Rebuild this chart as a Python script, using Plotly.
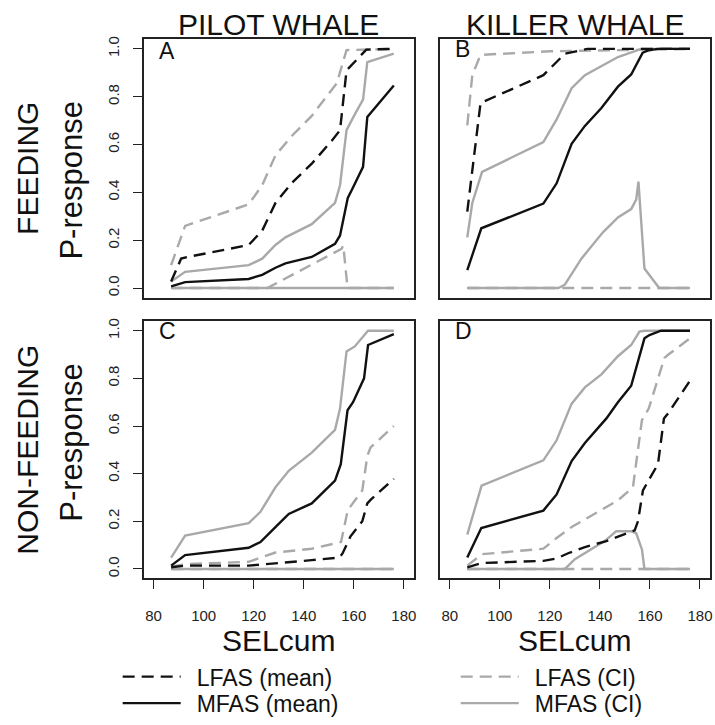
import plotly.graph_objects as go

# ---------------- data ----------------
x_ticks = [80, 100, 120, 140, 160, 180]
y_ticks = [0.0, 0.2, 0.4, 0.6, 0.8, 1.0]
y_tick_labels = ["0.0", "0.2", "0.4", "0.6", "0.8", "1.0"]

# Panel A: pilot whale, feeding
A_lfas_mean_x = [87, 91, 93.6, 118, 123.4, 128.7, 135.3, 143.2, 151.2, 154.5, 157.1, 160.4, 165, 176]
A_lfas_mean_y = [0.027, 0.123, 0.13, 0.18, 0.24, 0.356, 0.44, 0.52, 0.616, 0.66, 0.91, 0.945, 0.997, 1.0]
A_lfas_ci_hi_x = [87, 92.6, 118, 123.4, 128.7, 135.3, 143.2, 153.2, 157.1, 176]
A_lfas_ci_hi_y = [0.096, 0.26, 0.35, 0.43, 0.555, 0.637, 0.72, 0.856, 0.995, 1.0]
A_lfas_ci_lo_x = [87, 125.4, 155.1, 155.8, 157.5, 176]
A_lfas_ci_lo_y = [0, 0, 0.164, 0.178, 0, 0]
A_mfas_mean_x = [87, 92.6, 118, 123.4, 128.7, 132.7, 143.2, 152.5, 154.5, 157.6, 159.2, 163.7, 165.4, 176]
A_mfas_mean_y = [0.007, 0.025, 0.038, 0.055, 0.085, 0.103, 0.13, 0.185, 0.22, 0.377, 0.41, 0.507, 0.715, 0.847]
A_mfas_ci_hi_x = [87, 92.6, 118, 123.4, 128.7, 132.7, 143.2, 152.5, 154.5, 157.1, 160.4, 163.7, 165.4, 176]
A_mfas_ci_hi_y = [0.027, 0.068, 0.096, 0.123, 0.18, 0.212, 0.267, 0.356, 0.43, 0.66, 0.726, 0.788, 0.945, 0.98]
A_mfas_ci_lo_x = [87, 176]
A_mfas_ci_lo_y = [0, 0]

# Panel B: killer whale, feeding
B_lfas_mean_x = [87, 92.3, 117.4, 126, 135, 176]
B_lfas_mean_y = [0.32, 0.774, 0.89, 0.98, 1.0, 1.0]
B_lfas_ci_hi_x = [87, 89, 92.3, 120, 176]
B_lfas_ci_hi_y = [0.68, 0.89, 0.975, 0.99, 1.0]
B_lfas_ci_lo_x = [87, 176]
B_lfas_ci_lo_y = [0, 0]
B_mfas_mean_x = [87, 92.6, 117.4, 122.7, 128.7, 134, 140.6, 147.2, 152.5, 157.1, 159.1, 163, 176]
B_mfas_mean_y = [0.075, 0.25, 0.353, 0.438, 0.603, 0.678, 0.753, 0.842, 0.893, 0.984, 0.993, 1.0, 1.0]
B_mfas_ci_hi_x = [87, 89, 92.9, 117.4, 122.7, 128.7, 134, 147.2, 156.5, 176]
B_mfas_ci_hi_y = [0.212, 0.356, 0.486, 0.61, 0.705, 0.836, 0.89, 0.966, 1.0, 1.0]
B_mfas_ci_lo_x = [87, 123.4, 126, 132.6, 141.2, 147.2, 152.5, 154.5, 155.4, 157.8, 163.7, 176]
B_mfas_ci_lo_y = [0, 0, 0.014, 0.123, 0.233, 0.295, 0.33, 0.37, 0.445, 0.082, 0, 0]

# Panel C: pilot whale, non-feeding
C_lfas_mean_x = [87, 92.6, 118, 128.7, 143.2, 154.2, 155.5, 158.7, 163.4, 165.4, 166.7, 176]
C_lfas_mean_y = [0.007, 0.014, 0.014, 0.025, 0.037, 0.048, 0.065, 0.137, 0.2, 0.275, 0.29, 0.378]
C_lfas_ci_hi_x = [87, 92.6, 118, 128.7, 143.2, 154.9, 157.6, 163.4, 165.4, 166.7, 176]
C_lfas_ci_hi_y = [0.01, 0.02, 0.03, 0.069, 0.085, 0.113, 0.247, 0.33, 0.474, 0.51, 0.6]
C_lfas_ci_lo_x = [87, 176]
C_lfas_ci_lo_y = [0, 0]
C_mfas_mean_x = [87, 92.6, 118, 122.7, 128.7, 134, 143.2, 152.5, 154.8, 157.5, 159.7, 164.1, 165.7, 176]
C_mfas_mean_y = [0.014, 0.058, 0.089, 0.113, 0.176, 0.231, 0.275, 0.371, 0.44, 0.666, 0.70, 0.80, 0.94, 0.986]
C_mfas_ci_hi_x = [87, 92.6, 118, 122.7, 128.7, 134, 143.2, 152.5, 154.5, 157.1, 160.4, 165.7, 176]
C_mfas_ci_hi_y = [0.048, 0.14, 0.192, 0.24, 0.343, 0.412, 0.488, 0.584, 0.673, 0.913, 0.934, 1.0, 1.0]
C_mfas_ci_lo_x = [87, 176]
C_mfas_ci_lo_y = [0, 0]

# Panel D: killer whale, non-feeding
D_lfas_mean_x = [87, 92.9, 117.4, 122.7, 127.3, 134, 142.6, 149.9, 153.9, 155.2, 157.2, 163.2, 165.6, 167.2, 176]
D_lfas_mean_y = [0.007, 0.025, 0.034, 0.044, 0.066, 0.092, 0.117, 0.144, 0.162, 0.2, 0.33, 0.44, 0.632, 0.652, 0.79]
D_lfas_ci_hi_x = [87, 92.9, 117.4, 122.7, 128.7, 140.6, 147.2, 153.2, 156.8, 159.5, 165.8, 167.4, 176]
D_lfas_ci_hi_y = [0.014, 0.062, 0.085, 0.13, 0.176, 0.247, 0.288, 0.343, 0.625, 0.673, 0.886, 0.9, 0.968]
D_lfas_ci_lo_x = [87, 176]
D_lfas_ci_lo_y = [0, 0]
D_mfas_mean_x = [87, 92.6, 117.4, 122.7, 128.7, 134, 142.6, 147.2, 152.5, 157.8, 159.8, 164.4, 176]
D_mfas_mean_y = [0.048, 0.172, 0.245, 0.313, 0.453, 0.529, 0.632, 0.70, 0.769, 0.968, 0.982, 1.0, 1.0]
D_mfas_ci_hi_x = [87, 92.7, 117.4, 122.7, 128.7, 134, 140.6, 147.2, 152.5, 155.8, 157.8, 176]
D_mfas_ci_hi_y = [0.144, 0.35, 0.456, 0.54, 0.694, 0.762, 0.817, 0.893, 0.94, 0.996, 1.0, 1.0]
D_mfas_ci_lo_x = [87, 126, 130, 141.9, 146.5, 152.5, 154.5, 156.8, 157.8, 176]
D_mfas_ci_lo_y = [0, 0, 0.041, 0.117, 0.158, 0.158, 0.15, 0.082, 0, 0]

panel_titles = ["PILOT WHALE", "KILLER WHALE"]
row_labels = ["FEEDING", "NON-FEEDING"]
panel_letters = ["A", "B", "C", "D"]
legend_names = ["LFAS (mean)", "MFAS (mean)", "LFAS (CI)", "MFAS (CI)"]

# ---------------- styling ----------------
W, H = 715, 725
FONT = "Liberation Sans, Arial, sans-serif"
BLACK = "#111111"
GRAY = "#a9a9a9"
DASH = "12px,7px"
LW = 2.4
NB = "\u00a0\u2009"

def px(x):
    return x / W

def py(y):
    return 1 - y / H

col_x = [(144, 415), (441, 712)]
row_y = [(37, 300), (324, 586)]

fig = go.Figure()

panels = [
    ("A", 0, 0, A_lfas_mean_x, A_lfas_mean_y, A_lfas_ci_hi_x, A_lfas_ci_hi_y, A_lfas_ci_lo_x, A_lfas_ci_lo_y,
     A_mfas_mean_x, A_mfas_mean_y, A_mfas_ci_hi_x, A_mfas_ci_hi_y, A_mfas_ci_lo_x, A_mfas_ci_lo_y),
    ("B", 0, 1, B_lfas_mean_x, B_lfas_mean_y, B_lfas_ci_hi_x, B_lfas_ci_hi_y, B_lfas_ci_lo_x, B_lfas_ci_lo_y,
     B_mfas_mean_x, B_mfas_mean_y, B_mfas_ci_hi_x, B_mfas_ci_hi_y, B_mfas_ci_lo_x, B_mfas_ci_lo_y),
    ("C", 1, 0, C_lfas_mean_x, C_lfas_mean_y, C_lfas_ci_hi_x, C_lfas_ci_hi_y, C_lfas_ci_lo_x, C_lfas_ci_lo_y,
     C_mfas_mean_x, C_mfas_mean_y, C_mfas_ci_hi_x, C_mfas_ci_hi_y, C_mfas_ci_lo_x, C_mfas_ci_lo_y),
    ("D", 1, 1, D_lfas_mean_x, D_lfas_mean_y, D_lfas_ci_hi_x, D_lfas_ci_hi_y, D_lfas_ci_lo_x, D_lfas_ci_lo_y,
     D_mfas_mean_x, D_mfas_mean_y, D_mfas_ci_hi_x, D_mfas_ci_hi_y, D_mfas_ci_lo_x, D_mfas_ci_lo_y),
]

for i, p in enumerate(panels):
    (letter, r, c, lmx, lmy, lhx, lhy, llx, lly, mmx, mmy, mhx, mhy, mlx, mly) = p
    n = "" if i == 0 else str(i + 1)
    xa, ya = "x" + n, "y" + n
    first = i == 0
    # CI lines first (gray), then means (black)
    fig.add_trace(go.Scatter(x=lhx, y=lhy, mode="lines", xaxis=xa, yaxis=ya,
                             line=dict(color=GRAY, width=LW, dash=DASH),
                             name=NB + legend_names[2], showlegend=first, legend="legend3"))
    fig.add_trace(go.Scatter(x=llx, y=lly, mode="lines", xaxis=xa, yaxis=ya,
                             line=dict(color=GRAY, width=LW, dash=DASH), showlegend=False))
    fig.add_trace(go.Scatter(x=mhx, y=mhy, mode="lines", xaxis=xa, yaxis=ya,
                             line=dict(color=GRAY, width=LW),
                             name=NB + legend_names[3], showlegend=first, legend="legend4"))
    fig.add_trace(go.Scatter(x=mlx, y=mly, mode="lines", xaxis=xa, yaxis=ya,
                             line=dict(color=GRAY, width=LW), showlegend=False))
    fig.add_trace(go.Scatter(x=lmx, y=lmy, mode="lines", xaxis=xa, yaxis=ya,
                             line=dict(color=BLACK, width=LW, dash=DASH),
                             name=NB + legend_names[0], showlegend=first, legend="legend"))
    fig.add_trace(go.Scatter(x=mmx, y=mmy, mode="lines", xaxis=xa, yaxis=ya,
                             line=dict(color=BLACK, width=LW),
                             name=NB + legend_names[1], showlegend=first, legend="legend2"))

    x0, x1 = col_x[c]
    y0, y1 = row_y[r]
    common = dict(showline=True, mirror=True, linecolor="#222222", linewidth=1.5,
                  showgrid=False, zeroline=False, ticklen=9, tickwidth=1.2, tickcolor="#222222",
                  tickfont=dict(family=FONT, size=15, color="#222222"), fixedrange=True,
                  ticklabeloverflow="allow")
    xaxis = dict(domain=[px(x0), px(x1)], range=[76, 184], anchor=ya,
                 tickvals=x_ticks, ticktext=[str(v) for v in x_ticks], **common)
    yaxis = dict(domain=[py(y1), py(y0)], range=[-0.04, 1.04], anchor=xa,
                 tickvals=y_ticks, ticktext=y_tick_labels, tickangle=-90, **common)
    if r == 1:
        xaxis.update(ticks="outside", showticklabels=True, ticklabelstandoff=14)
    else:
        xaxis.update(ticks="", showticklabels=False)
    if c == 0:
        yaxis.update(ticks="outside", showticklabels=True, ticklabelstandoff=8)
    else:
        yaxis.update(ticks="", showticklabels=False)
    fig.layout["xaxis" + n] = xaxis
    fig.layout["yaxis" + n] = yaxis

annotations = []
# column titles
for c, t in enumerate(panel_titles):
    annotations.append(dict(text=t, x=px(sum(col_x[c]) / 2), y=py(22), xref="paper", yref="paper",
                            showarrow=False, xanchor="center", yanchor="middle",
                            font=dict(family=FONT, size=30, color="#111111")))
# SELcum labels
for c in range(2):
    annotations.append(dict(text="SELcum", x=px(sum(col_x[c]) / 2), y=py(649), xref="paper", yref="paper",
                            showarrow=False, xanchor="center", yanchor="middle",
                            font=dict(family=FONT, size=30, color="#111111")))
# row labels
row_label_y = [168, 455]
presp_y = [180, 447]
for r in range(2):
    annotations.append(dict(text=row_labels[r], x=px(28), y=py(row_label_y[r]), xref="paper", yref="paper",
                            showarrow=False, xanchor="center", yanchor="middle", textangle=-90,
                            font=dict(family=FONT, size=30, color="#111111")))
    annotations.append(dict(text="P-response", x=px(72), y=py(presp_y[r]), xref="paper", yref="paper",
                            showarrow=False, xanchor="center", yanchor="middle", textangle=-90,
                            font=dict(family=FONT, size=31, color="#111111")))
# panel letters
letter_pos = [(157, 49), (454, 47), (157, 334), (454, 334)]
for L, (lx, ly) in zip(panel_letters, letter_pos):
    annotations.append(dict(text=L, x=px(lx), y=py(ly), xref="paper", yref="paper",
                            showarrow=False, xanchor="left", yanchor="middle",
                            font=dict(family=FONT, size=23, color="#111111")))

legend_style = dict(font=dict(family=FONT, size=23, color="#111111"), bgcolor="rgba(0,0,0,0)",
                    itemwidth=58, tracegroupgap=0, xanchor="left", yanchor="middle",
                    orientation="v", itemclick=False, itemdoubleclick=False)

fig.update_layout(
    width=W, height=H,
    margin=dict(l=0, r=0, t=0, b=0),
    paper_bgcolor="white", plot_bgcolor="white",
    annotations=annotations,
    legend=dict(x=px(118), y=py(686), **legend_style),
    legend2=dict(x=px(118), y=py(713), **legend_style),
    legend3=dict(x=px(457), y=py(686), **legend_style),
    legend4=dict(x=px(457), y=py(713), **legend_style),
    showlegend=True,
)

fig.write_html("out.html", config={"displayModeBar": False},
               post_script="document.body.style.margin='0px';document.body.style.padding='0px';")
